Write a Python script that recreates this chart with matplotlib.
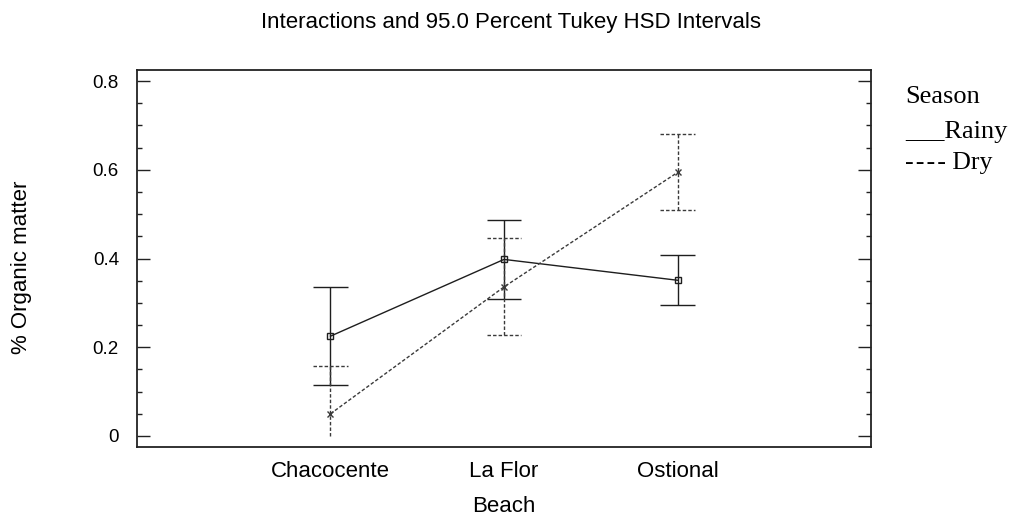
import matplotlib
matplotlib.use('Agg')
import matplotlib.pyplot as plt
import numpy as np
from matplotlib.ticker import MultipleLocator

beaches = ['Chacocente', 'La Flor', 'Ostional']
rainy_mean = [0.225, 0.398, 0.351]
rainy_low = [0.116, 0.309, 0.295]
rainy_high = [0.335, 0.487, 0.408]
dry_mean = [0.050, 0.336, 0.594]
dry_low = [-0.058, 0.228, 0.509]
dry_high = [0.158, 0.446, 0.680]
yticks = [0, 0.2, 0.4, 0.6, 0.8]
ytick_labels = ['0', '0.2', '0.4', '0.6', '0.8']

SANS = 'Liberation Sans'
SERIF = ['Liberation Serif', 'DejaVu Serif']
RAIN_C = '#1e1e1e'
DRY_C = '#3a3a3a'

fig = plt.figure(figsize=(10.15, 5.18), dpi=100)
ax = fig.add_axes([137 / 1015, 1 - 447 / 518, (871 - 137) / 1015, (447 - 69.5) / 518])

x = np.arange(1, len(beaches) + 1)
cap = 0.1
dash = (0, (2.5, 1.5))

# Rainy
ax.plot(x, rainy_mean, color=RAIN_C, lw=1.0, marker='s', ms=4, mfc='none', mew=1.0, zorder=3)
ax.vlines(x, rainy_low, rainy_high, color=RAIN_C, lw=1.0)
ax.hlines(rainy_high, x - cap, x + cap, color=RAIN_C, lw=1.0)
ax.hlines(rainy_low, x - cap, x + cap, color=RAIN_C, lw=1.0)

# Dry (interval clipped at 0 as in the original software)
dl = np.array(dry_low)
ax.plot(x, dry_mean, color=DRY_C, lw=1.0, ls=dash, marker='x', ms=4, mew=1.0, zorder=3)
ax.vlines(x, np.maximum(dl, 0), dry_high, color=DRY_C, lw=1.0, linestyles=[dash])
ax.hlines(dry_high, x - cap, x + cap, color=DRY_C, lw=1.0, linestyles=[dash])
keep = dl >= 0
ax.hlines(dl[keep], x[keep] - cap, x[keep] + cap, color=DRY_C, lw=1.0, linestyles=[dash])

ax.set_xlim(2 - 2.115, 2 + 2.115)
ax.set_ylim(-0.0248, 0.826)
ax.set_xticks(x)
ax.set_xticklabels(beaches, fontfamily=SANS, fontsize=16)
ax.set_yticks(yticks)
ax.set_yticklabels(ytick_labels, fontfamily=SANS, fontsize=13.5)
ax.yaxis.set_minor_locator(MultipleLocator(0.05))
ax.tick_params(axis='y', which='both', direction='in', left=True, right=True, color='#222222')
ax.tick_params(axis='y', which='major', length=9.5, width=1.0, pad=13)
ax.tick_params(axis='y', which='minor', length=3.6, width=1.0)
ax.tick_params(axis='x', length=0, pad=10)
for s in ax.spines.values():
    s.set_linewidth(1.3)
    s.set_color('#222222')

ax.set_xlabel('Beach', fontfamily=SANS, fontsize=16, labelpad=10.5)
ax.set_ylabel('% Organic matter', fontfamily=SANS, fontsize=16, labelpad=44)
ax.yaxis.label.set_y(0.4755)

fig.text(0.503, 1 - 28 / 518, 'Interactions and 95.0 Percent Tukey HSD Intervals',
         ha='center', va='baseline', fontfamily=SANS, fontsize=16)

fig.text(905 / 1015, 1 - 103 / 518, 'Season', fontfamily=SERIF, fontsize=19, va='baseline')
fig.text(905 / 1015, 1 - 138 / 518, '___Rainy', fontfamily=SERIF, fontsize=19, va='baseline')
fig.text(905 / 1015, 1 - 169 / 518, '-\u200a-\u200a-\u200a- Dry', fontfamily=SERIF, fontsize=18.5,
         va='baseline')

fig.savefig('out.png', dpi=100)
